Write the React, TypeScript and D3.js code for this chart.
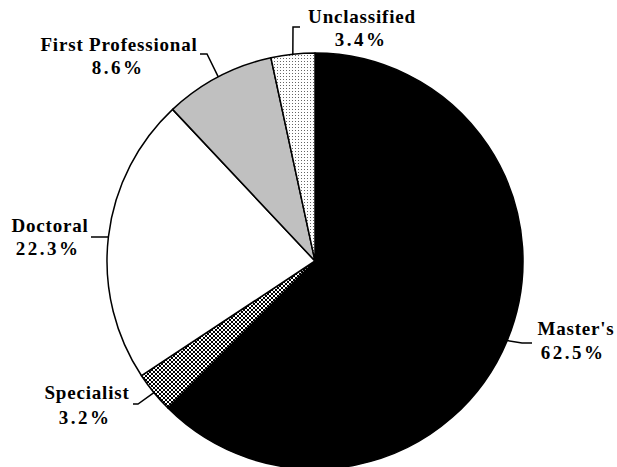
import React from "react";
import * as d3 from "d3";

const categories = ["Master's", "Specialist", "Doctoral", "First Professional", "Unclassified"];
const values = [62.5, 3.2, 22.3, 8.6, 3.4];
const percentLabels = ["62.5%", "3.2%", "22.3%", "8.6%", "3.4%"];

// layout (not data)
const fills = ["#000000", "url(#checker)", "#ffffff", "#c0c0c0", "url(#dots)"];
const labelPos = [
  { x: 576, y: 335, px: 573, py: 359 },
  { x: 87, y: 399, px: 85, py: 424 },
  { x: 50, y: 232, px: 48, py: 255 },
  { x: 119, y: 51, px: 118, py: 74 },
  { x: 362, y: 23, px: 361, py: 46 },
];
const elbows: [number, number][][] = [
  [[522, 343], [532, 343]],
  [[138, 404], [133, 404]],
  [[91, 237]],
  [[207, 54], [200, 54]],
  [[293, 27], [300, 27]],
];

const W = 617;
const H = 467;
const cx = 315;
const cy = 261;
const R = 208;

export default function App() {
  const pie = d3.pie<number>().sort(null).value((d) => d);
  const arcs = pie(values);
  const arc = d3.arc<d3.PieArcDatum<number>>().innerRadius(0).outerRadius(R);
  const font = "'Liberation Serif', 'Times New Roman', serif";
  return (
    <div style={{ position: "fixed", left: 0, top: 0 }}>
      <svg width={W} height={H} style={{ display: "block", background: "#fff" }}>
        <defs>
          <pattern id="checker" width={4} height={4} patternUnits="userSpaceOnUse">
            <rect width={4} height={4} fill="#fff" />
            <rect x={0} y={0} width={2} height={2} fill="#000" shapeRendering="crispEdges" />
            <rect x={2} y={2} width={2} height={2} fill="#000" shapeRendering="crispEdges" />
          </pattern>
          <pattern id="dots" width={3} height={3} patternUnits="userSpaceOnUse">
            <rect width={3} height={3} fill="#fff" />
            <rect x={1} y={1} width={1} height={1} fill="#666" shapeRendering="crispEdges" />
          </pattern>
        </defs>
        <g transform={`translate(${cx},${cy})`}>
          {arcs.map((a, i) => (
            <path key={i} d={arc(a) || ""} fill={fills[i]} stroke="#000" strokeWidth={1.5} strokeLinejoin="round" />
          ))}
        </g>
        {arcs.map((a, i) => {
          const mid = (a.startAngle + a.endAngle) / 2;
          const ex = cx + R * Math.sin(mid);
          const ey = cy - R * Math.cos(mid);
          const pts: [number, number][] = [[ex, ey], ...elbows[i]];
          return (
            <path key={"l" + i} d={d3.line()(pts) || ""} fill="none" stroke="#000" strokeWidth={1.5} />
          );
        })}
        {categories.map((c, i) => (
          <g key={"t" + i} fontFamily={font} fontWeight="bold" fontSize={19} textAnchor="middle" fill="#000">
            <text x={labelPos[i].x} y={labelPos[i].y} letterSpacing={0.8}>{c}</text>
            <text x={labelPos[i].px} y={labelPos[i].py} letterSpacing={2.5}>{percentLabels[i]}</text>
          </g>
        ))}
      </svg>
    </div>
  );
}
